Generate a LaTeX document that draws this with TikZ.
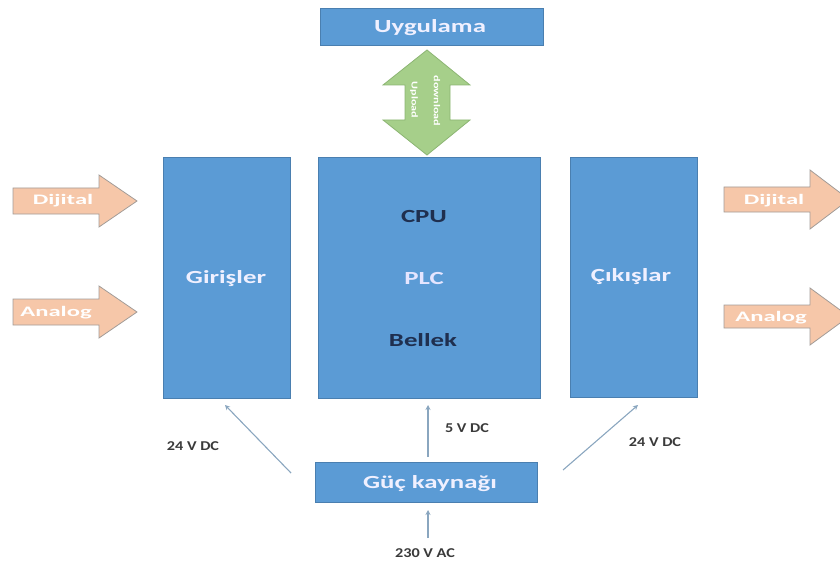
\documentclass[tikz,border=0pt]{standalone}
\usepackage{fontspec}
\setmainfont{Carlito}
\usetikzlibrary{arrows.meta}
\definecolor{boxblue}{HTML}{5B9BD5}
\definecolor{boxedge}{HTML}{4A7FB0}
\definecolor{navy}{HTML}{1F2F4F}
\definecolor{peach}{HTML}{F6C7A9}
\definecolor{peachedge}{HTML}{A29C98}
\definecolor{lgreen}{HTML}{A6CF8A}
\definecolor{gedge}{HTML}{8CB573}
\definecolor{conn}{HTML}{8AA6BF}
\definecolor{lbl}{HTML}{3A3A3A}
\newcommand\wideA[1]{\scalebox{1.45}[1]{#1}}
\newcommand\wideB[1]{\scalebox{1.7}[1]{#1}}
\newcommand\wideC[1]{\scalebox{1.2}[1]{#1}}
\newcommand\wideD[1]{\scalebox{1.35}[1]{#1}}
\tikzset{
  blk/.style={draw=boxedge, line width=0.8pt, fill=boxblue, inner sep=0pt},
  blktext/.style={text=white!94!blue, font=\fontsize{18.5}{20}\selectfont\bfseries},
  parttext/.style={font=\fontsize{18.5}{20}\selectfont\bfseries},
  sig/.style={draw=peachedge, line width=0.8pt, fill=peach},
  sigtext/.style={text=white, font=\fontsize{14.5}{16}\selectfont\bfseries},
  updown/.style={draw=gedge, line width=0.8pt, fill=lgreen},
  updtext/.style={text=white, font=\fontsize{9}{10}\selectfont\bfseries, rotate=-90},
  feed/.style={draw=conn, line width=1.1pt, -{Stealth[length=5pt,width=5pt]}},
  volt/.style={text=lbl, font=\fontsize{13.5}{15}\selectfont\bfseries}
}
\begin{document}
\begin{tikzpicture}[x=1pt,y=-1pt]
\useasboundingbox (0,0) rectangle (840,564);
\clip (0,0) rectangle (840,564);
% blocks
\node[blk, minimum width=223pt, minimum height=37pt] (app) at (431.5,27) {};
\node[blktext] (apptext) at (430,28) {\wideA{Uygulama}};
\node[blk, minimum width=127pt, minimum height=241pt] (inp) at (226.5,277.5) {};
\node[blktext] (inptext) at (226,279) {\wideA{Girişler}};
\node[blk, minimum width=222pt, minimum height=241pt] (plc) at (429,277.5) {};
\node[parttext, text=navy] (cpu) at (424,217) {\wideA{CPU}};
\node[parttext, text=white!90!blue] (plctext) at (424,278) {\wideA{PLC}};
\node[parttext, text=navy] (mem) at (423,340) {\wideA{Bellek}};
\node[blk, minimum width=127pt, minimum height=240pt] (out) at (633.5,277) {};
\node[blktext] (outtext) at (631,277) {\wideA{Çıkışlar}};
\node[blk, minimum width=222pt, minimum height=40pt] (psu) at (426,482) {};
\node[blktext] (psutext) at (430,484) {\wideA{Güç kaynağı}};
% green double arrow
\draw[updown] (427,50) -- (470,85) -- (450,85) -- (450,120) -- (470,120) -- (427,155)
  -- (383,120) -- (405,120) -- (405,85) -- (383,85) -- cycle;
\node[updtext] (upl) at (414,100) {\wideD{Upload}};
\node[updtext] (dnl) at (437,101) {\wideD{download}};
% signal arrows left
\draw[sig] (13,188) -- (99,188) -- (99,175) -- (137,201) -- (99,227) -- (99,214) -- (13,214) -- cycle;
\node[sigtext] (ldig) at (63,201) {\wideB{Dijital}};
\draw[sig] (13,299) -- (99,299) -- (99,286) -- (137,312) -- (99,338) -- (99,325) -- (13,325) -- cycle;
\node[sigtext] (lana) at (56,313) {\wideB{Analog}};
% signal arrows right
\draw[sig] (724,187) -- (810,187) -- (810,170) -- (849,199.5) -- (810,229) -- (810,212) -- (724,212) -- cycle;
\node[sigtext] (rdig) at (774,201) {\wideB{Dijital}};
\draw[sig] (724,305) -- (810,305) -- (810,288) -- (849,316.5) -- (810,345) -- (810,328) -- (724,328) -- cycle;
\node[sigtext] (rana) at (771,318) {\wideB{Analog}};
% power feeds
\coordinate (pl) at (291,473);
\coordinate (pr) at (563,470);
\coordinate (pc) at (428,457);
\coordinate (ac) at (428,538);
\coordinate (il) at (225,405);
\coordinate (ic) at (428,405);
\coordinate (ir) at (638,405);
\coordinate (ps) at (428,510);
\draw[feed] (pl) -- (il);
\draw[feed] (pc) -- (ic);
\draw[feed] (pr) -- (ir);
\draw[feed] (ac) -- (ps);
\node[volt] (v1) at (193,446) {\wideC{24 V DC}};
\node[volt] (v2) at (467,428) {\wideC{5 V DC}};
\node[volt] (v3) at (655,442) {\wideC{24 V DC}};
\node[volt] (v4) at (425,553) {\wideC{230 V AC}};
\end{tikzpicture}
\end{document}
